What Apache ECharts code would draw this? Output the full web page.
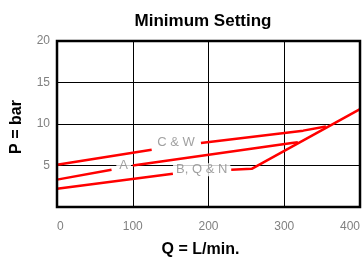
<!DOCTYPE html>
<html><head><meta charset="utf-8">
<script src="https://cdn.jsdelivr.net/npm/echarts@6/dist/echarts.min.js"></script>
<style>html,body{margin:0;padding:0;background:#fff}#c{width:362px;height:259px}</style>
</head><body><div id="c"></div>
<script>
// C & W curve (null = gap for label)
const cwQ = [0, 125, null, 190, 325, 355];
const cwP = [5.1, 6.9, null, 7.7, 9.2, 9.7];
// A curve
const aQ = [0, 72, null, 100, 310, 318];
const aP = [3.3, 4.5, null, 5.0, 7.7, 7.8];
// B, Q & N curve
const bQ = [0, 153, null, 230, 257, 400];
const bP = [2.2, 4.0, null, 4.5, 4.6, 11.8];
// curve labels
const labelNames = ['C & W', 'A', 'B, Q & N'];
const labelQ = [157, 88, 191];
const labelP = [7.75, 5.05, 4.5];
const xTicks = [0, 100, 200, 300, 400];
const yTicks = [0, 5, 10, 15, 20];

function pairs(qs, ps) {
  return qs.map((q, i) => q === null ? ['-', '-'] : [q, ps[i]]);
}
const lineStyle = { color: '#ff0000', width: 2.5 };
function lineSeries(qs, ps) {
  return { type: 'line', data: pairs(qs, ps), symbol: 'none', connectNulls: false,
    lineStyle: lineStyle, z: 3, animation: false };
}
const chart = echarts.init(document.getElementById('c'));
chart.setOption({
  animation: false,
  title: { text: 'Minimum Setting', left: 198, top: 8, textAlign: 'center',
    textStyle: { fontFamily: 'Liberation Sans', fontWeight: 'bold', fontSize: 17, color: '#000' } },
  grid: { left: 57, right: 2, top: 41, bottom: 52, show: true, borderColor: '#000', borderWidth: 2.5, z: 5,
    containLabel: false, outerBoundsMode: 'none' },
  xAxis: { type: 'value', min: xTicks[0], max: xTicks[xTicks.length - 1], interval: 100,
    name: 'Q = L/min.', nameLocation: 'middle', nameGap: 35,
    nameTextStyle: { fontFamily: 'Liberation Sans', fontWeight: 'bold', fontSize: 16, color: '#000', padding: [0, 16, 0, 0] },
    axisLine: { show: false }, axisTick: { show: false },
    axisLabel: { color: '#808080', fontFamily: 'Liberation Sans', fontSize: 12, margin: 14,
      alignMinLabel: 'left', alignMaxLabel: 'right' },
    splitLine: { show: true, lineStyle: { color: '#000', width: 1 } } },
  yAxis: { type: 'value', min: yTicks[0], max: yTicks[yTicks.length - 1], interval: 5,
    name: 'P = bar', nameLocation: 'middle', nameGap: 32, nameRotate: 90,
    nameTextStyle: { fontFamily: 'Liberation Sans', fontWeight: 'bold', fontSize: 16, color: '#000', padding: [0, 0, 0, -6] },
    axisLine: { show: false }, axisTick: { show: false },
    axisLabel: { color: '#808080', fontFamily: 'Liberation Sans', fontSize: 12, margin: 7,
      formatter: v => v === 0 ? '' : String(v) },
    splitLine: { show: true, lineStyle: { color: '#000', width: 1 } } },
  series: [
    lineSeries(cwQ, cwP),
    lineSeries(aQ, aP),
    lineSeries(bQ, bP),
    { type: 'scatter', symbolSize: 0, z: 2, silent: true,
      data: labelNames.map((n, i) => ({ name: n, value: [labelQ[i], labelP[i]] })),
      label: { show: true, position: 'inside', formatter: p => p.name, color: '#8a8a8a',
        fontFamily: 'Liberation Sans', fontSize: 13, backgroundColor: '#fff', padding: [0, 3] } }
  ]
});
</script></body></html>
